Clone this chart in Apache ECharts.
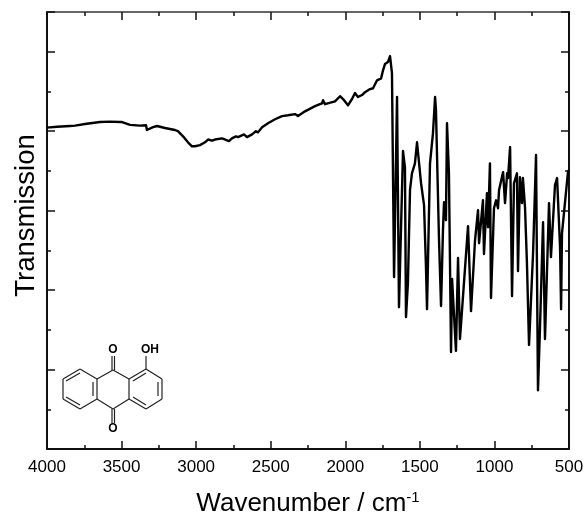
<!DOCTYPE html>
<html>
<head>
<meta charset="utf-8">
<style>
  html, body { margin: 0; padding: 0; background: #fff; }
  #chart { width: 585px; height: 519px; }
</style>
<script src="https://cdn.jsdelivr.net/npm/echarts@6/dist/echarts.min.js"></script>
</head>
<body>
<div id="chart"></div>
<script>
const wavenumber = [
  4000, 3933, 3846, 3812, 3745, 3645, 3578, 3511, 3497, 3443, 3376, 3336, 3330, 3289, 3262, 3209,
  3142, 3122, 3088, 3055, 3028, 3008, 2974, 2941, 2920, 2893, 2874, 2827, 2813, 2800, 2780, 2760, 2733, 2719,
  2706, 2679, 2659, 2625, 2599, 2585, 2558, 2518, 2505, 2471, 2424, 2384, 2337, 2317, 2270, 2203,
  2170, 2156, 2149, 2136, 2069, 2035, 2015, 2002, 1982, 1955, 1935, 1915, 1888, 1868, 1834, 1814,
  1787, 1760, 1747, 1734, 1714, 1700, 1687, 1673, 1653, 1640, 1613, 1600, 1593, 1580, 1566, 1553,
  1546, 1533, 1519, 1506, 1492, 1472, 1459, 1452, 1432, 1412, 1398, 1392, 1385, 1372, 1358, 1345,
  1338, 1325, 1318, 1305, 1291, 1284, 1258, 1244, 1231, 1177, 1157, 1130, 1110, 1103, 1077, 1070,
  1050, 1043, 1030, 1023, 1003, 989, 976, 969, 942, 929, 915, 909, 895, 882, 869, 849,
  842, 829, 815, 809, 795, 782, 768, 741, 721, 708, 695, 674, 661, 634, 621, 594,
  580, 560, 553, 547, 507, 500
]
const transmission = [
  80.9, 81.1, 81.3, 81.4, 81.8, 82.3, 82.4, 82.3, 82.3, 81.6, 81.4, 81.5, 80.3, 81.0, 81.3, 80.8,
  80.3, 80.0, 78.7, 77.2, 76.2, 76.2, 76.5, 77.2, 77.9, 77.6, 77.9, 78.2, 78.0, 78.2, 77.5, 78.2, 78.7, 78.5,
  79.0, 79.2, 78.5, 79.2, 80.0, 79.7, 81.0, 82.0, 82.3, 83.0, 83.8, 84.0, 84.3, 83.8, 85.0, 86.3,
  86.8, 87.0, 87.8, 86.8, 87.5, 88.8, 88.1, 87.8, 86.5, 88.1, 89.6, 88.6, 89.1, 89.8, 90.6, 90.8,
  92.8, 93.3, 95.3, 96.9, 97.4, 98.9, 94.6, 43.3, 88.6, 35.7, 75.0, 70.9, 33.2, 41.8, 65.2, 69.4,
  68.9, 71.9, 77.2, 77.2, 66.9, 61.4, 45.8, 35.2, 71.9, 79.5, 88.6, 85.3, 85.8, 53.3, 36.0, 55.1,
  62.1, 57.6, 82.0, 69.4, 24.4, 42.8, 24.7, 48.1, 27.7, 56.1, 34.7, 52.6, 60.1, 51.8, 62.6, 49.1,
  64.4, 55.8, 71.9, 38.0, 60.6, 62.6, 60.6, 65.2, 69.7, 61.9, 69.4, 68.2, 76.0, 38.5, 66.9, 69.4,
  44.8, 68.4, 61.9, 68.2, 60.9, 46.8, 26.2, 49.3, 74.0, 14.8, 29.9, 57.1, 27.7, 61.9, 48.3, 66.4,
  68.2, 50.8, 35.2, 54.3, 69.7, 70.2
]

const FONT = '"Liberation Sans", Arial, sans-serif'
const INK = '#111'

// structure sketch, pixel coords of the inset
const bond = (x1, y1, x2, y2) => ({
  type: 'line',
  shape: { x1, y1, x2, y2 },
  style: { stroke: '#222', lineWidth: 1.2 },
  silent: true
})
const atom = (text, x, y) => ({
  type: 'text',
  x, y,
  style: { text, font: `bold 12px ${FONT}`, fill: '#000', align: 'center', verticalAlign: 'middle' },
  silent: true
})
const inset = [
  // left ring
  bond(63, 379, 80, 369), bond(80, 369, 97, 379), bond(97, 379, 97, 399),
  bond(97, 399, 80, 409), bond(80, 409, 63, 399), bond(63, 399, 63, 379),
  bond(66, 381, 80, 373), bond(93, 382, 93, 396), bond(66, 397, 80, 405),
  // centre ring
  bond(97, 379, 113, 370), bond(113, 370, 129, 379),
  bond(97, 399, 113, 409), bond(113, 409, 129, 399),
  // right ring
  bond(129, 379, 146, 369), bond(146, 369, 162, 379), bond(162, 379, 162, 399),
  bond(162, 399, 146, 409), bond(146, 409, 129, 399), bond(129, 399, 129, 379),
  bond(133, 381, 146, 373), bond(158, 382, 158, 396), bond(133, 397, 146, 405),
  // C=O and OH
  bond(112, 370, 112, 356), bond(114.5, 370, 114.5, 356),
  bond(112, 409, 112, 423), bond(114.5, 409, 114.5, 423),
  bond(146, 369, 146, 356),
  atom('O', 113, 350), atom('O', 113, 429), atom('OH', 150, 350)
]

const chart = echarts.init(document.getElementById('chart'))
const xBase = {
  type: 'value',
  min: 500,
  max: 4000,
  interval: 500,
  inverse: true,
  axisLine: { onZero: false, lineStyle: { color: INK, width: 2 } },
  axisTick: { inside: true, length: 8, lineStyle: { color: INK, width: 1.5 } },
  minorTick: { show: true, splitNumber: 2, length: 4, lineStyle: { color: INK, width: 1.5 } },
  splitLine: { show: false }
}
const yBase = {
  type: 'value',
  min: 0,
  max: 110,
  interval: 20,
  axisLine: { onZero: false, lineStyle: { color: INK, width: 2 } },
  axisTick: { inside: true, length: 8, lineStyle: { color: INK, width: 1.5 } },
  minorTick: { show: true, splitNumber: 2, length: 4, lineStyle: { color: INK, width: 1.5 } },
  splitLine: { show: false },
  axisLabel: { show: false }
}

chart.setOption({
  animation: false,
  backgroundColor: '#fff',
  textStyle: { fontFamily: FONT },
  grid: { left: 47, right: 16, top: 12, bottom: 70, outerBoundsMode: 'none' },
  xAxis: [
    {
      ...xBase,
      position: 'bottom',
      axisLabel: { color: '#000', fontSize: 17, fontFamily: FONT, margin: 10, formatter: v => String(v) },
      name: 'Wavenumber / cm{sup|-1}',
      nameLocation: 'middle',
      nameGap: 41,
      nameTextStyle: {
        color: '#000',
        fontSize: 26,
        fontFamily: FONT,
        rich: { sup: { fontSize: 15, verticalAlign: 'top', padding: [0, 0, 12, 0], fontFamily: FONT, color: '#000' } }
      }
    },
    { ...xBase, position: 'top', axisLabel: { show: false }, axisLine: { onZero: false, lineStyle: { color: '#333', width: 1.5 } } }
  ],
  yAxis: [
    {
      ...yBase,
      position: 'left',
      name: 'Transmission',
      nameLocation: 'middle',
      nameGap: 7,
      nameTextStyle: { color: '#000', fontSize: 27.5, fontFamily: FONT, padding: [0, 0, 0, 30] }
    },
    { ...yBase, position: 'right' }
  ],
  series: [{
    type: 'line',
    data: wavenumber.map((w, i) => [w, transmission[i]]),
    showSymbol: false,
    smooth: false,
    lineStyle: { color: '#000', width: 2.4, join: 'round' }
  }],
  graphic: inset
})
</script>
</body>
</html>
